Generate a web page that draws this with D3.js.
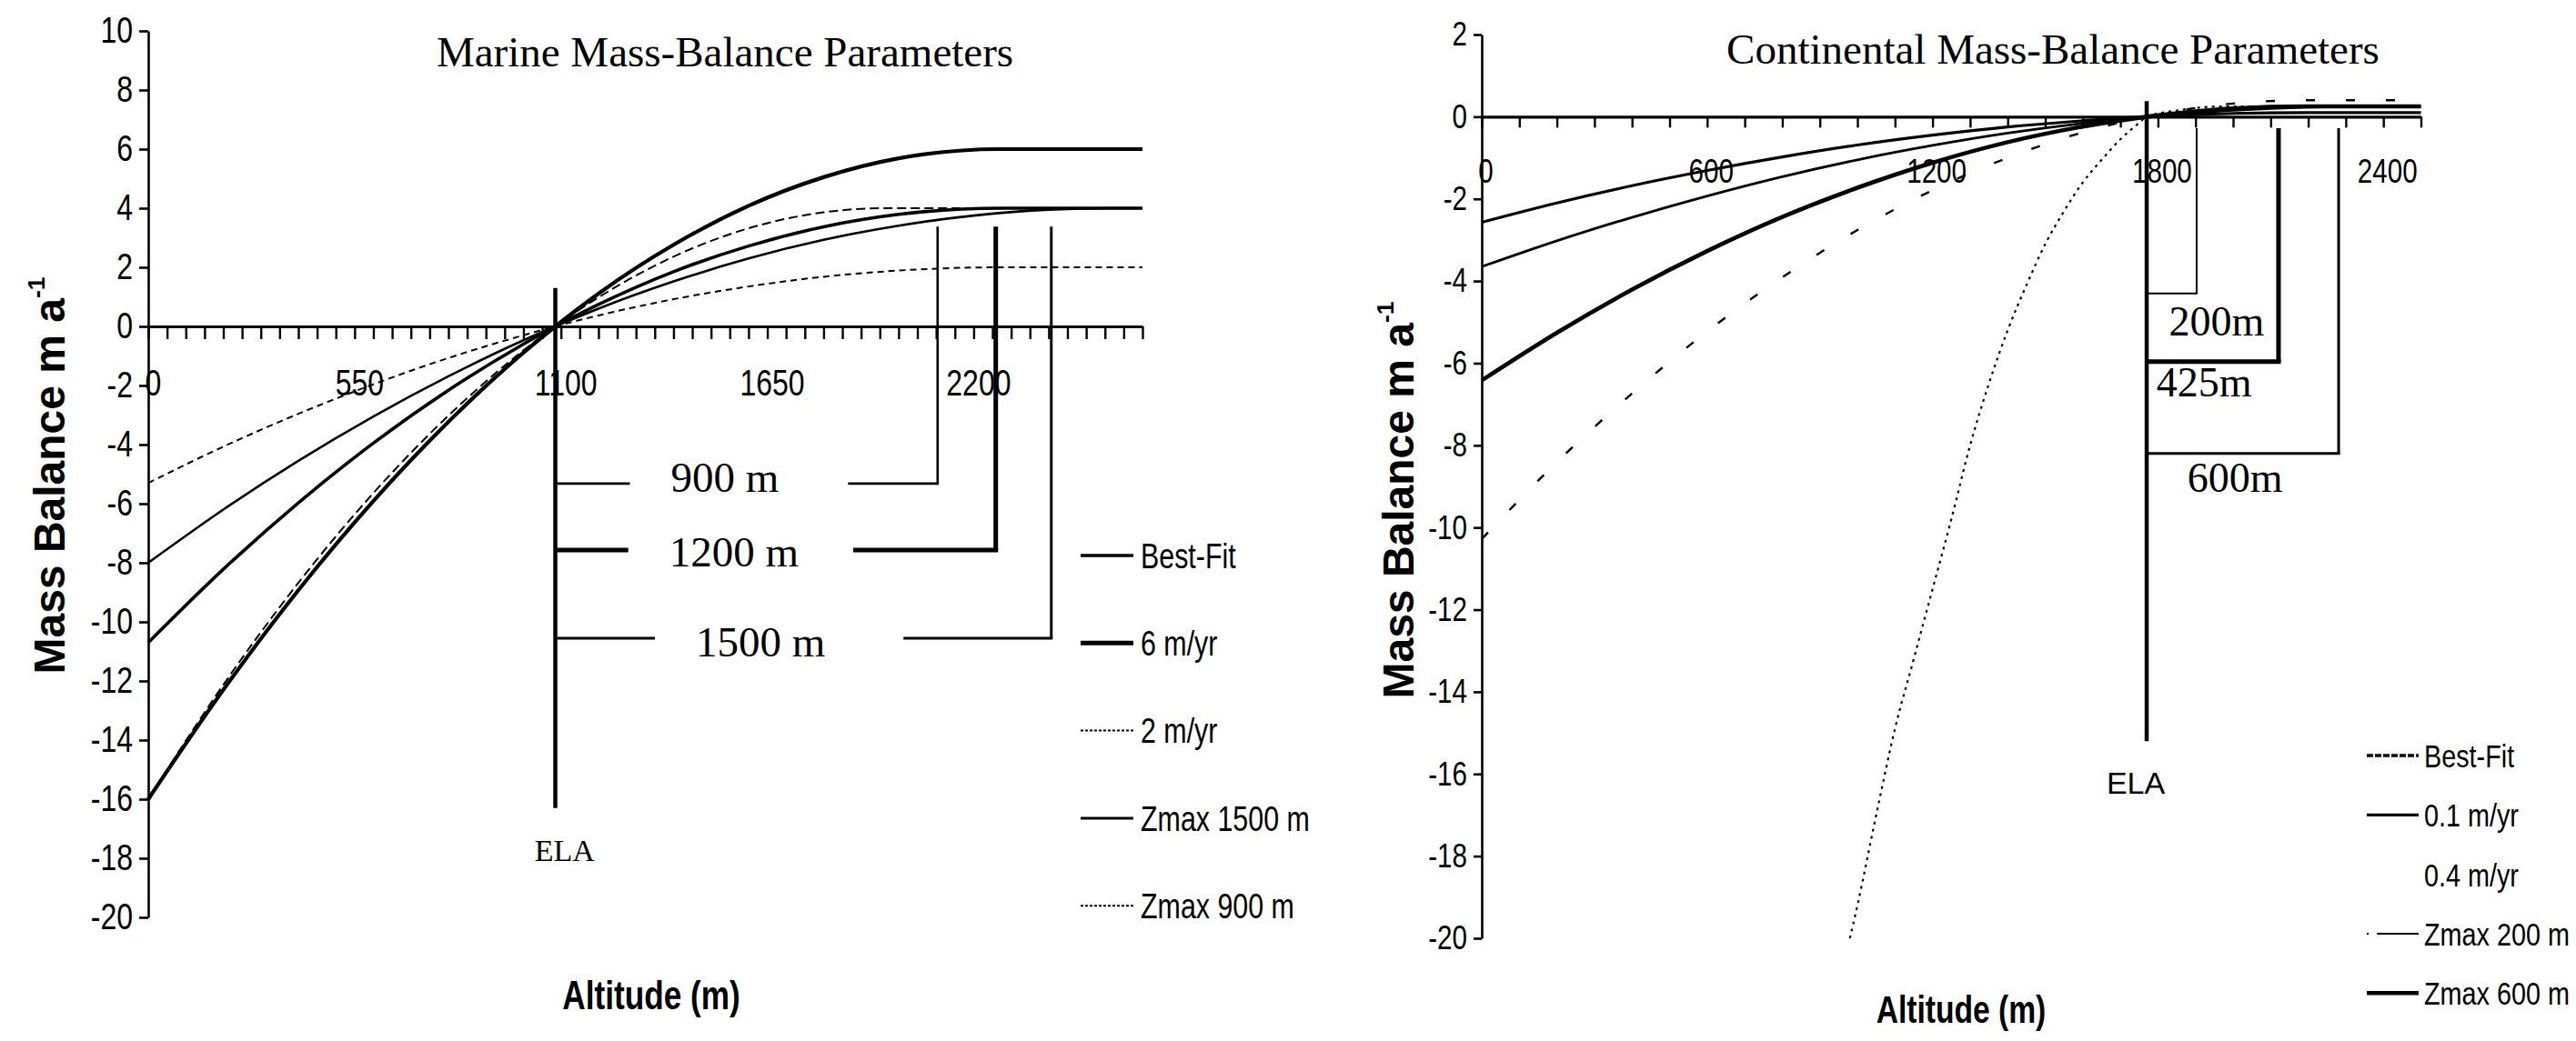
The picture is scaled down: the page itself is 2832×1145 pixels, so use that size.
<!DOCTYPE html>
<html><head><meta charset="utf-8">
<script src="https://cdn.jsdelivr.net/npm/d3@7"></script>
<style>
html,body{margin:0;padding:0;background:#fff;}
svg{display:block;background:#fff;}
.narrow{font-family:"Liberation Sans",Arial,sans-serif;transform-box:fill-box;transform:scaleX(0.8);}
.nm{transform-origin:center;}
.ne{transform-origin:right center;}
.ns{transform-origin:left center;}
.serif{font-family:"Liberation Serif","Times New Roman",serif;}
.sans{font-family:"Liberation Sans",Arial,sans-serif;}
</style></head><body>
<svg id="c" width="2832" height="1145"></svg>
<script>
// ---------------- DATA ----------------
// Marine panel
const marineTitle = "Marine Mass-Balance Parameters";
const marineNames = ["Best-Fit", "6 m/yr", "2 m/yr", "Zmax 1500 m", "Zmax 900 m"];
const marineBestFitAlt = [0,200,400,600,800,1000,1085,1200,1400,1600,1800,2000,2270,2650];
const marineBestFitMB  = [-10.7,-8.22,-5.97,-3.95,-2.16,-0.6,0,0.74,1.85,2.72,3.37,3.79,4,4];
const marine6Alt = [0,200,400,600,800,1000,1085,1200,1400,1600,1800,2000,2270,2650];
const marine6MB  = [-16,-12.3,-8.93,-5.91,-3.23,-0.89,0,1.11,2.76,4.08,5.05,5.69,6,6];
const marine2Alt = [0,200,400,600,800,1000,1085,1200,1400,1600,1800,2000,2280,2650];
const marine2MB  = [-5.3,-4.07,-2.96,-1.96,-1.07,-0.3,0,0.37,0.92,1.35,1.68,1.89,2,2];
const marineZ1500Alt = [0,200,400,600,800,1000,1085,1200,1400,1600,1800,2000,2200,2400,2570,2650];
const marineZ1500MB  = [-8,-6.2,-4.55,-3.05,-1.69,-0.47,0,0.6,1.52,2.3,2.93,3.41,3.75,3.95,4,4];
const marineZ900Alt = [0,200,400,600,800,1000,1085,1200,1400,1600,1800,1960,2650];
const marineZ900MB  = [-16,-12.13,-8.68,-5.64,-3.02,-0.81,0,0.98,2.36,3.32,3.86,4,4];
const marineXTickLabels = [0, 550, 1100, 1650, 2200];
const marineYTicks = [-20,-18,-16,-14,-12,-10,-8,-6,-4,-2,0,2,4,6,8,10];
const marineELA = 1085;
const marineELARange = [1.3, -16.3];
const marineBracketLabels = ["900 m", "1200 m", "1500 m"];
const marineBracketAlt = [2104, 2259, 2407];
const marineBracketLevel = [-5.32, -7.57, -10.55];
const marineBracketTop = 3.38;
const marineBracketLabelAlt = [1537, 1561, 1632];
const marineBracketLabelMB = [-5.6, -8.12, -11.17];

// Continental panel
const contTitle = "Continental Mass-Balance Parameters";
const contNames = ["Best-Fit", "0.1 m/yr", "0.4 m/yr", "Zmax 200 m", "Zmax 600 m"];
const contBestFitAlt = [0,200,400,600,800,1000,1200,1400,1600,1770,1900,2000,2195,2500];
const contBestFitMB  = [-6.42,-5.26,-4.21,-3.27,-2.44,-1.73,-1.12,-0.62,-0.24,0,0.13,0.2,0.25,0.25];
const cont01Alt = [0,200,400,600,800,1000,1200,1400,1600,1770,1900,2000,2195,2500];
const cont01MB  = [-2.57,-2.1,-1.68,-1.31,-0.98,-0.69,-0.45,-0.25,-0.1,0,0.05,0.08,0.1,0.1];
const cont04Alt = [0,200,400,600,800,1000,1200,1400,1600,1770,1900,2000,2195,2500];
const cont04MB  = [-10.28,-8.41,-6.74,-5.23,-3.91,-2.76,-1.79,-1.0,-0.38,0,0.21,0.32,0.4,0.4];
const contZ200Alt = [980,1000,1050,1100,1150,1200,1250,1300,1350,1400,1450,1500,1550,1600,1650,1700,1750,1770,1850,1970,2500];
const contZ200MB  = [-20,-19.2,-17,-14.9,-13.2,-11.5,-9.8,-8,-6.5,-5.2,-4.1,-3.1,-2.3,-1.6,-1.05,-0.55,-0.15,0,0.15,0.25,0.25];
const contZ600Alt = [0,200,400,600,800,1000,1200,1400,1600,1770,2000,2200,2370,2500];
const contZ600MB  = [-3.65,-3.02,-2.45,-1.93,-1.46,-1.05,-0.7,-0.4,-0.16,0,0.155,0.23,0.25,0.25];
const contXTickLabels = [0, 600, 1200, 1800, 2400];
const contYTicks = [-20,-18,-16,-14,-12,-10,-8,-6,-4,-2,0,2];
const contELA = 1770;
const contELARange = [0.38, -15.2];
const contBracketLabels = ["200m", "425m", "600m"];
const contBracketAlt = [1903, 2121, 2281];
const contBracketLevel = [-4.3, -5.96, -8.2];
const contBracketTop = -0.28;
const contBracketLabelAlt = [1956, 1923, 2005];
const contBracketLabelMB = [-5.32, -6.81, -9.13];

const yAxisTitle = "Mass Balance m a";
const yAxisSup = "-1";
const xAxisTitle = "Altitude (m)";

// ---------------- DRAWING ----------------
const svg = d3.select("#c");
svg.append("rect").attr("width",2832).attr("height",1145).attr("fill","#fff");

const marineSeries = [
  [marineBestFitAlt, marineBestFitMB],
  [marine6Alt, marine6MB],
  [marine2Alt, marine2MB],
  [marineZ1500Alt, marineZ1500MB],
  [marineZ900Alt, marineZ900MB]
];
const contSeries = [
  [contBestFitAlt, contBestFitMB],
  [cont01Alt, cont01MB],
  [cont04Alt, cont04MB],
  [contZ200Alt, contZ200MB],
  [contZ600Alt, contZ600MB]
];

const marineStyle = [
  {w:3.6, dash:null}, {w:4.2, dash:null}, {w:2, dash:"7,5"}, {w:2.6, dash:null}, {w:2, dash:"10,5"}
];
const marineLegendStyle = [
  {w:3.6, dash:null}, {w:5, dash:null}, {w:2, dash:"3,2"}, {w:3, dash:null}, {w:2, dash:"3,2"}
];
const contStyle = [
  {w:4.6, dash:null}, {w:3.2, dash:null}, {w:2.4, dash:"10,34"}, {w:2.2, dash:"3,5"}, {w:2.8, dash:null}
];
const contLegendStyle = [
  {w:3.5, dash:"7,2"}, {w:3.2, dash:null}, null, {w:2, dash:"2,9,60"}, {w:4.5, dash:null}
];

function panel(o) {
  const g = svg.append("g");
  const x = d3.scaleLinear().domain(o.xDomain).range(o.xRange);
  const y = d3.scaleLinear().domain(o.yDomain).range(o.yRange);

  // y axis
  const ya = g.append("g").attr("transform",`translate(${o.xRange[0]},0)`)
    .call(d3.axisLeft(y).tickValues(o.yTicks).tickSize(o.yTickSize).tickSizeOuter(0).tickPadding(7).tickFormat(d => String(d)));
  ya.attr("font-family",null).attr("font-size",null);
  ya.select(".domain").attr("stroke","#000").attr("stroke-width",2.6);
  ya.selectAll(".tick line").attr("stroke","#000").attr("stroke-width",2.6);
  ya.selectAll("text").attr("class","narrow ne").attr("font-size",o.tickFont).attr("fill","#000");

  // x axis at y=0
  const xa = g.append("g").attr("transform",`translate(0,${y(0)})`)
    .call(d3.axisBottom(x).tickValues(d3.range(o.xDomain[0], o.xDomain[1]+1, o.xTickStep))
      .tickSize(o.xTickSize).tickSizeOuter(0).tickPadding(o.xTickPad)
      .tickFormat(d => o.xLabels.includes(d) ? String(d) : ""));
  xa.attr("font-family",null).attr("font-size",null);
  xa.select(".domain").attr("stroke","#000").attr("stroke-width",3.2);
  xa.selectAll(".tick line").attr("stroke","#000").attr("stroke-width",2.4);
  xa.selectAll("text").attr("class","narrow nm").attr("font-size",o.tickFont).attr("fill","#000").attr("dx",o.xLabelDx);

  // series
  const lineGen = d3.line().x(d=>x(d[0])).y(d=>y(d[1])).curve(d3.curveMonotoneX);
  o.series.forEach((s,i) => {
    const st = o.styles[i];
    g.append("path").attr("d", lineGen(d3.zip(s[0], s[1])))
      .attr("fill","none").attr("stroke","#000").attr("stroke-width",st.w)
      .attr("stroke-dasharray",st.dash).attr("stroke-linejoin","round");
  });

  // ELA line
  g.append("line").attr("x1",x(o.ela)).attr("x2",x(o.ela))
    .attr("y1",y(o.elaRange[0])).attr("y2",y(o.elaRange[1]))
    .attr("stroke","#000").attr("stroke-width",4.5);
  g.append("text").attr("class",o.elaClass).attr("x",x(o.elaLabel[0])).attr("y",y(o.elaLabel[1]))
    .attr("text-anchor","middle").attr("font-size",o.elaFont).text("ELA");

  // brackets
  o.brackets.labels.forEach((lab,i) => {
    const bw = o.brackets.widths[i];
    const xv = x(o.brackets.alt[i]), yl = y(o.brackets.level[i]);
    g.append("line").attr("x1",xv).attr("x2",xv).attr("y1",y(o.brackets.top)).attr("y2",yl)
      .attr("stroke","#000").attr("stroke-width",bw);
    const t = g.append("text").attr("class","serif").attr("font-size",o.brackets.font)
      .attr("x",x(o.brackets.labelAlt[i])).attr("y",y(o.brackets.labelMB[i]))
      .attr("text-anchor","middle").text(lab);
    const x0 = x(o.ela) + 2;
    if (o.brackets.split) {
      const bb = t.node().getBBox();
      g.append("line").attr("x1",x0).attr("x2",bb.x - o.brackets.gapL).attr("y1",yl).attr("y2",yl)
        .attr("stroke","#000").attr("stroke-width",bw);
      g.append("line").attr("x1",bb.x+bb.width + o.brackets.gapR[i]).attr("x2",xv+bw/2).attr("y1",yl).attr("y2",yl)
        .attr("stroke","#000").attr("stroke-width",bw);
    } else {
      g.append("line").attr("x1",x0).attr("x2",xv+bw/2).attr("y1",yl).attr("y2",yl)
        .attr("stroke","#000").attr("stroke-width",bw);
    }
  });

  // title
  g.append("text").attr("class","serif").attr("font-size",47).attr("x",o.titlePos[0]).attr("y",o.titlePos[1])
    .attr("text-anchor","middle").text(o.title);

  // axis titles
  g.append("text").attr("class","narrow nm").attr("font-weight","bold").attr("font-size",o.xTitleFont)
    .attr("x",o.xTitlePos[0]).attr("y",o.xTitlePos[1]).attr("text-anchor","middle").text(xAxisTitle);
  const yt = g.append("text").attr("class","sans").attr("font-weight","bold").attr("font-size",o.yTitleFont)
    .attr("text-anchor","middle")
    .attr("transform",`translate(${o.yTitlePos[0]},${o.yTitlePos[1]}) rotate(-90)`);
  yt.append("tspan").text(yAxisTitle);
  yt.append("tspan").attr("font-size",o.yTitleFont*0.55).attr("dy",-o.yTitleFont*0.45).text(yAxisSup);

  // legend
  o.names.forEach((nm,i) => {
    const yy = o.legend.y0 + i*o.legend.dy;
    const st = o.legendStyles[i];
    if (st) {
      g.append("line").attr("x1",o.legend.x1).attr("x2",o.legend.x2).attr("y1",yy).attr("y2",yy)
        .attr("stroke","#000").attr("stroke-width",st.w).attr("stroke-dasharray",st.dash);
    }
    g.append("text").attr("class","narrow ns").attr("font-size",o.legend.font)
      .attr("x",o.legend.tx).attr("y",yy).attr("dy","0.36em").text(nm);
  });
}

panel({
  xDomain:[0,2650], xRange:[163,1256], yDomain:[-20,10], yRange:[1009,34],
  yTicks: marineYTicks, yTickSize:10, xTickStep:50, xTickSize:14, xTickPad:34, xLabels: marineXTickLabels, xLabelDx:5,
  tickFont:40, series: marineSeries, styles: marineStyle, legendStyles: marineLegendStyle, names: marineNames,
  ela: marineELA, elaRange: marineELARange, elaLabel:[1110,-18.09], elaClass:"serif", elaFont:34,
  brackets:{labels:marineBracketLabels, alt:marineBracketAlt, level:marineBracketLevel, top:marineBracketTop,
    labelAlt:marineBracketLabelAlt, labelMB:marineBracketLabelMB, widths:[2.6,5,3], font:47, split:true, gapL:45, gapR:[76,60,86]},
  title: marineTitle, titlePos:[797,73],
  xTitleFont:44, xTitlePos:[716,1110], yTitleFont:48, yTitlePos:[71,523],
  legend:{x1:1188, x2:1246, tx:1254, y0:611, dy:96.3, font:38}
});

panel({
  xDomain:[0,2500], xRange:[1629,2661.5], yDomain:[-20,2], yRange:[1032,38],
  yTicks: contYTicks, yTickSize:9, xTickStep:100, xTickSize:12, xTickPad:34, xLabels: contXTickLabels, xLabelDx:4,
  tickFont:37, series: contSeries, styles: contStyle, legendStyles: contLegendStyle, names: contNames,
  ela: contELA, elaRange: contELARange, elaLabel:[1741,-16.47], elaClass:"sans", elaFont:34,
  brackets:{labels:contBracketLabels, alt:contBracketAlt, level:contBracketLevel, top:contBracketTop,
    labelAlt:contBracketLabelAlt, labelMB:contBracketLabelMB, widths:[2,5,3], font:46, split:false},
  title: contTitle, titlePos:[2257,70],
  xTitleFont:42, xTitlePos:[2156,1125], yTitleFont:48, yTitlePos:[1554,550],
  legend:{x1:2602, x2:2659, tx:2665, y0:831, dy:65.3, font:36}
});
</script></body></html>
